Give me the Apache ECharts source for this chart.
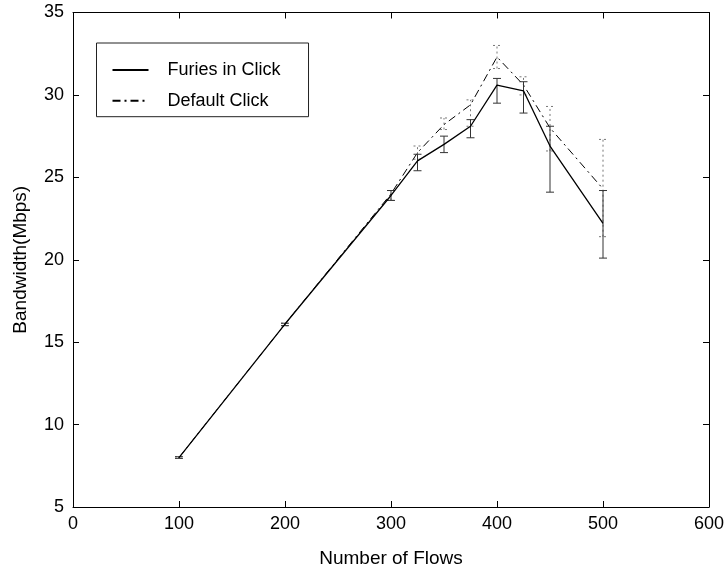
<!DOCTYPE html>
<html>
<head>
<meta charset="utf-8">
<script src="https://cdn.jsdelivr.net/npm/echarts@6/dist/echarts.min.js"></script>
<style>
  html, body { margin: 0; padding: 0; background: #fff; }
  #chart { width: 728px; height: 573px; }
</style>
</head>
<body>
<div id="chart"></div>
<script>
// number of flows (x)
const flows = [100, 200, 300, 325, 350, 375, 400, 425, 450, 500]
// Furies in Click: mean and error range
const furies = [8.0, 16.1, 23.9, 26.0, 27.0, 28.1, 30.6, 30.25, 26.9, 22.2]
const furiesLow = [7.95, 16.0, 23.6, 25.4, 26.5, 27.4, 29.5, 28.9, 24.1, 20.1]
const furiesHigh = [8.05, 16.15, 24.2, 26.4, 27.5, 28.5, 31.0, 30.8, 28.1, 24.2]
// Default Click: mean and error range
const defaults = [8.0, 16.1, 24.0, 26.5, 28.2, 29.4, 32.3, 30.6, 28.0, 24.3]
const defaultsLow = [7.95, 16.0, 23.6, 26.1, 27.9, 28.1, 31.6, 30.0, 26.6, 21.4]
const defaultsHigh = [8.05, 16.15, 24.2, 26.9, 28.6, 29.7, 33.0, 31.1, 29.3, 27.3]

const font = 'Liberation Sans, Arial, sans-serif'
const dashDot = [8, 4, 2, 4]

// error bar renderer
function errorBar (color, dash) {
  return function (params, api) {
    const x = api.value(0)
    const lo = api.coord([x, api.value(1)])
    const hi = api.coord([x, api.value(2)])
    const half = 4
    const style = { stroke: color, lineWidth: 1, lineDash: dash }
    return {
      type: 'group',
      children: [
        { type: 'line', shape: { x1: lo[0], y1: lo[1], x2: hi[0], y2: hi[1] }, style: style },
        { type: 'line', shape: { x1: lo[0] - half, y1: lo[1], x2: lo[0] + half, y2: lo[1] }, style: style },
        { type: 'line', shape: { x1: hi[0] - half, y1: hi[1], x2: hi[0] + half, y2: hi[1] }, style: style }
      ]
    }
  }
}

const axisLine = { show: true, onZero: false, lineStyle: { color: '#000', width: 1 } }
const axisTick = { show: true, inside: true, length: 6, lineStyle: { color: '#000' } }
const axisLabel = { color: '#000', fontSize: 18, fontFamily: font }
const titleStyle = { color: '#000', fontSize: 19, fontFamily: font }

const chart = echarts.init(document.getElementById('chart'))
chart.setOption({
  animation: false,
  backgroundColor: '#fff',
  grid: { left: 73, right: 19, top: 12.5, bottom: 57.5 },
  legend: {
    data: ['Furies in Click', 'Default Click'],
    orient: 'vertical',
    left: 96.5,
    top: 43,
    itemWidth: 36,
    itemHeight: 18,
    itemGap: 12.7,
    padding: [18, 28, 7, 15],
    borderColor: '#222',
    borderWidth: 1,
    itemStyle: { opacity: 0 },
    textStyle: { color: '#000', fontSize: 18, fontFamily: font, padding: [0, 0, 0, 14] }
  },
  xAxis: [{
    type: 'value',
    min: 0, max: 600, interval: 100,
    name: 'Number of Flows',
    nameLocation: 'middle',
    nameGap: 42,
    nameTextStyle: titleStyle,
    axisLine: axisLine, axisTick: axisTick,
    axisLabel: Object.assign({ margin: 8 }, axisLabel),
    splitLine: { show: false }
  }, {
    type: 'value', position: 'top',
    min: 0, max: 600, interval: 100,
    axisLine: axisLine, axisTick: axisTick,
    axisLabel: { show: false }, splitLine: { show: false }
  }],
  yAxis: [{
    type: 'value',
    min: 5, max: 35, interval: 5,
    name: 'Bandwidth(Mbps)',
    nameLocation: 'middle',
    nameGap: 43,
    nameTextStyle: titleStyle,
    axisLine: axisLine, axisTick: axisTick,
    axisLabel: Object.assign({ margin: 9 }, axisLabel),
    splitLine: { show: false }
  }, {
    type: 'value', position: 'right',
    min: 5, max: 35, interval: 5,
    axisLine: axisLine, axisTick: axisTick,
    axisLabel: { show: false }, splitLine: { show: false }
  }],
  series: [
    {
      name: 'Default Click',
      type: 'line',
      symbol: 'none',
      data: flows.map((x, i) => [x, defaults[i]]),
      lineStyle: { color: '#000', width: 1, type: dashDot },
      itemStyle: { color: '#000' },
      z: 3
    },
    {
      name: 'Default Click error',
      type: 'custom',
      renderItem: errorBar('#777', [2, 3]),
      data: flows.map((x, i) => [x, defaultsLow[i], defaultsHigh[i]]),
      z: 2
    },
    {
      name: 'Furies in Click',
      type: 'line',
      symbol: 'none',
      data: flows.map((x, i) => [x, furies[i]]),
      lineStyle: { color: '#000', width: 1.3 },
      itemStyle: { color: '#000' },
      z: 4
    },
    {
      name: 'Furies in Click error',
      type: 'custom',
      renderItem: errorBar('#333', null),
      data: flows.map((x, i) => [x, furiesLow[i], furiesHigh[i]]),
      z: 4
    }
  ]
})
</script>
</body>
</html>
